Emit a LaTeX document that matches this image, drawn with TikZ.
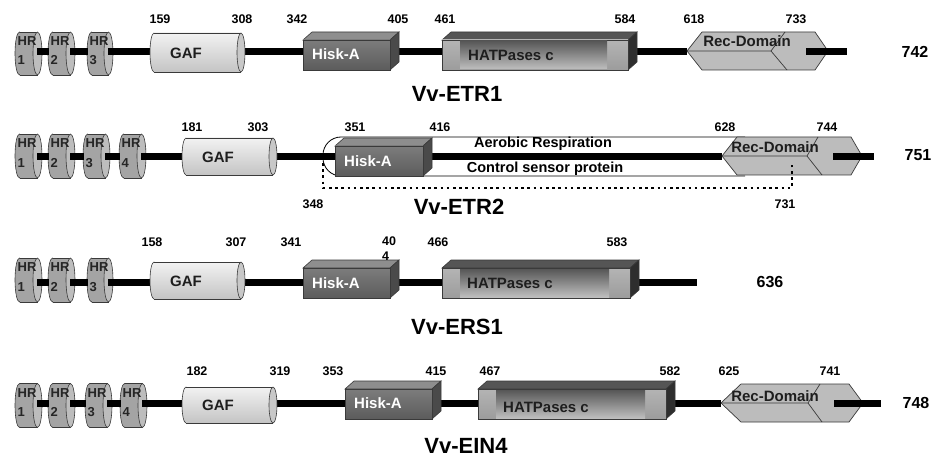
\documentclass[tikz,border=0pt]{standalone}
\usepackage{fontspec}
\setmainfont{Liberation Sans}
\definecolor{outl}{HTML}{3A3A3A}
\definecolor{hrbody}{HTML}{A4A4A4}
\definecolor{hrcap}{HTML}{BDBDBD}
\definecolor{gafT}{HTML}{F2F2F2}
\definecolor{gafB}{HTML}{C4C4C4}
\definecolor{gafcap}{HTML}{C8C8C8}
\definecolor{hkT}{HTML}{7C7C7C}
\definecolor{hkB}{HTML}{5C5C5C}
\definecolor{hktop}{HTML}{8E8E8E}
\definecolor{hkside}{HTML}{4A4A4A}
\definecolor{hatT}{HTML}{B4B4B4}
\definecolor{hatM}{HTML}{D8D8D8}
\definecolor{hatB}{HTML}{9C9C9C}
\definecolor{hattop}{HTML}{555555}
\definecolor{hatside}{HTML}{2E2E2E}
\definecolor{bandT}{HTML}{575757}
\definecolor{bandB}{HTML}{BEBEBE}
\definecolor{recfill}{HTML}{BCBCBC}
\definecolor{domtext}{HTML}{1E1E1E}
\newcommand\drawCyl[7]{%
  \path[#6,draw=outl,line width=0.6pt] (#1+#5,#3) ellipse[x radius=#5, y radius=#4];
  \path[#6] (#1+#5,#3-#4) rectangle (#2-#5,#3+#4);
  \draw[outl,line width=0.6pt] (#1+#5,#3-#4) -- (#2-#5,#3-#4) (#1+#5,#3+#4) -- (#2-#5,#3+#4);
  \path[#7,draw=outl,line width=0.6pt] (#2-#5,#3) ellipse[x radius=#5, y radius=#4];
}
\newcommand\drawBox[7]{%
  \path[#6,draw=outl,line width=0.6pt] (#1,#3) -- (#1+9,#3-8) -- (#2+9,#3-8) -- (#2,#3) -- cycle;
  \path[#7,draw=outl,line width=0.6pt] (#2,#3) -- (#2+9,#3-8) -- (#2+9,#4-8) -- (#2,#4) -- cycle;
  \path[#5,draw=outl,line width=0.6pt] (#1,#3) rectangle (#2,#4);
}
\newcommand\drawRec[9]{%
  \path[fill=recfill,draw=outl,line width=0.7pt] (#1,{(#5+#6)/2}) -- (#2,#5) -- (#3,#5) -- (#4,{(#5+#6)/2}) -- (#3,#6) -- (#2,#6) -- cycle;
  \draw[outl,line width=0.7pt] (#1,{(#5+#6)/2}) -- (#7,{(#5+#6)/2}) -- (#8,#5) (#7,{(#5+#6)/2}) -- (#9,#6);
}
\newcommand\hrlab[4]{\node[hrt] (#1) at (#2+2.5,#3-17.5) {HR\\#4};}
\newcommand\numl[4]{\node[numf] (#1) at (#2,#3) {#4};}
\begin{document}
\begin{tikzpicture}[x=1pt,y=-1pt,
  bb/.style={line width=7pt,black},
  hrb/.style={fill=hrbody}, hrc/.style={fill=hrcap},
  gafb/.style={top color=gafT,bottom color=gafB}, gafc/.style={fill=gafcap},
  hkf/.style={top color=hkT,bottom color=hkB}, hkt/.style={fill=hktop}, hks/.style={fill=hkside},
  hatf/.style={top color=hatT,middle color=hatM,bottom color=hatB}, hatt/.style={fill=hattop}, hats/.style={fill=hatside},
  band/.style={top color=bandT,bottom color=bandB},
  numf/.style={font=\fontsize{12.5}{12.5}\selectfont\bfseries,inner sep=0pt},
  totf/.style={font=\fontsize{16}{16}\selectfont\bfseries,inner sep=0pt},
  titf/.style={font=\fontsize{22}{22}\selectfont\bfseries,inner sep=0pt},
  domf/.style={font=\fontsize{15}{15}\selectfont\bfseries,inner sep=0pt,text=domtext},
  hkfont/.style={font=\fontsize{15}{15}\selectfont\bfseries,inner sep=0pt,text=white},
  hrt/.style={font=\fontsize{13}{19.5}\selectfont\bfseries,inner sep=0pt,align=left,anchor=north west,text=black!85},
  txtf/.style={font=\fontsize{14.5}{14.5}\selectfont\bfseries,inner sep=0pt},
  dots/.style={line width=2.6pt,dash pattern=on 2.6pt off 3.6pt}]
\useasboundingbox (0,0) rectangle (934,457);
\fill[white] (0,0) rectangle (934,457);

% ---------------- Row 1 : Vv-ETR1 ----------------
\coordinate (s1) at (28,52);
\coordinate (r1l) at (687,52);
\draw[bb] (s1) -- (r1l);
\drawCyl{15}{42}{53.5}{21.5}{4.5}{hrb}{hrc}
\drawCyl{48}{75}{53.5}{21.5}{4.5}{hrb}{hrc}
\drawCyl{87}{113}{53.5}{21.5}{4.5}{hrb}{hrc}
\coordinate (c11) at (37,52); \coordinate (c12) at (49,52);
\coordinate (c13) at (70,52); \coordinate (c14) at (88,52);
\coordinate (c15) at (108,52); \coordinate (c16) at (151,52);
\draw[bb] (c11) -- (c12); \draw[bb] (c13) -- (c14); \draw[bb] (c15) -- (c16);
\drawCyl{150}{245}{52.5}{19.5}{4}{gafb}{gafc}
\drawBox{303}{390}{40}{70}{hkf}{hkt}{hks}
\drawBox{442}{628}{40}{70}{hatf}{hatt}{hats}
\path[band] (460,41) rectangle (607,69);
\drawRec{687}{702}{815}{828}{32}{70}{771}{785}{787}
\coordinate (r1i) at (806,52); \coordinate (e1) at (847,52);
\draw[bb] (r1i) -- (e1);
\hrlab{h11}{15}{53.5}{1}
\hrlab{h12}{48}{53.5}{2}
\hrlab{h13}{87}{53.5}{3}
\node[domf,anchor=west] (gaf1) at (170,53) {GAF};
\node[hkfont,anchor=west] (hk1) at (312,54) {Hisk-A};
\node[domf,anchor=west] (hat1) at (468,55) {HATPases c};
\node[domf] (rec1) at (747,41) {Rec-Domain};
\numl{n11}{160}{19}{159}
\numl{n12}{242}{19}{308}
\numl{n13}{297}{19}{342}
\numl{n14}{398}{19}{405}
\numl{n15}{445}{19}{461}
\numl{n16}{625}{19}{584}
\numl{n17}{694}{19}{618}
\numl{n18}{796}{19}{733}
\node[totf] (t1) at (915,52) {742};
\node[titf] (ti1) at (457,94) {Vv-ETR1};

% ---------------- Row 2 : Vv-ETR2 ----------------
\path[fill=white,draw=black,line width=0.8pt,rounded corners=18pt] (745,137) -- (323,137) -- (323,176) -- (745,176);
\coordinate (s2) at (28,157);
\coordinate (r2l) at (722,157);
\draw[bb] (s2) -- (r2l);
\drawCyl{15}{42}{156}{22}{4.5}{hrb}{hrc}
\drawCyl{48}{75}{156}{22}{4.5}{hrb}{hrc}
\drawCyl{83}{110}{156}{22}{4.5}{hrb}{hrc}
\drawCyl{119}{146}{156}{22}{4.5}{hrb}{hrc}
\coordinate (c21) at (37,157); \coordinate (c22) at (49,157);
\coordinate (c23) at (70,157); \coordinate (c24) at (84,157);
\coordinate (c25) at (105,157); \coordinate (c26) at (120,157);
\coordinate (c27) at (141,157); \coordinate (c28) at (183,157);
\draw[bb] (c21) -- (c22); \draw[bb] (c23) -- (c24); \draw[bb] (c25) -- (c26); \draw[bb] (c27) -- (c28);
\drawCyl{182}{277}{156.5}{18.5}{4}{gafb}{gafc}
\drawBox{335}{423}{146}{176}{hkf}{hkt}{hks}
\drawRec{722}{737}{851}{862}{137}{175}{807}{818}{822}
\coordinate (r2i) at (833,157); \coordinate (e2) at (874,157);
\draw[bb] (r2i) -- (e2);
\hrlab{h21}{15}{156}{1}
\hrlab{h22}{48}{156}{2}
\hrlab{h23}{83}{156}{3}
\hrlab{h24}{119}{156}{4}
\node[domf,anchor=west] (gaf2) at (202,157) {GAF};
\node[hkfont,anchor=west] (hk2) at (344,161) {Hisk-A};
\node[domf] (rec2) at (775,147) {Rec-Domain};
\node[txtf,anchor=base] (aer) at (543,148) {Aerobic Respiration};
\node[txtf,anchor=base] (ctl) at (545,173) {Control sensor protein};
\coordinate (d1) at (323,163); \coordinate (d2) at (323,188);
\coordinate (d3) at (792,188); \coordinate (d4) at (792,162);
\draw[dots] (d1) -- (d2) -- (d3) -- (d4);
\numl{n21}{192}{127}{181}
\numl{n22}{258}{127}{303}
\numl{n23}{355}{127}{351}
\numl{n24}{440}{127}{416}
\numl{n25}{725}{127}{628}
\numl{n26}{827}{127}{744}
\numl{n27}{313}{204}{348}
\numl{n28}{785}{204}{731}
\node[totf] (t2) at (918,155) {751};
\node[titf] (ti2) at (459,207) {Vv-ETR2};

% ---------------- Row 3 : Vv-ERS1 ----------------
\coordinate (s3) at (28,282);
\coordinate (e3) at (697,282);
\draw[bb] (s3) -- (e3);
\drawCyl{15}{42}{280}{22}{4.5}{hrb}{hrc}
\drawCyl{48}{75}{280}{22}{4.5}{hrb}{hrc}
\drawCyl{87}{113}{280}{22}{4.5}{hrb}{hrc}
\coordinate (c31) at (37,282); \coordinate (c32) at (49,282);
\coordinate (c33) at (70,282); \coordinate (c34) at (88,282);
\coordinate (c35) at (108,282); \coordinate (c36) at (151,282);
\draw[bb] (c31) -- (c32); \draw[bb] (c33) -- (c34); \draw[bb] (c35) -- (c36);
\drawCyl{150}{245}{280.5}{18.5}{4}{gafb}{gafc}
\drawBox{303}{390}{268}{298}{hkf}{hkt}{hks}
\drawBox{442}{630}{268}{298}{hatf}{hatt}{hats}
\path[band] (460,269) rectangle (609,297);
\hrlab{h31}{15}{280}{1}
\hrlab{h32}{48}{280}{2}
\hrlab{h33}{87}{280}{3}
\node[domf,anchor=west] (gaf3) at (170,281) {GAF};
\node[hkfont,anchor=west] (hk3) at (312,283) {Hisk-A};
\node[domf,anchor=west] (hat3) at (467,283) {HATPases c};
\numl{n31}{152}{242}{158}
\numl{n32}{236}{242}{307}
\numl{n33}{291}{242}{341}
\node[numf,align=left,anchor=north west,font=\fontsize{12.5}{15}\selectfont\bfseries] (n34) at (382,236.5) {40\\4};
\numl{n35}{438}{242}{466}
\numl{n36}{617}{242}{583}
\node[totf] (t3) at (770,282) {636};
\node[titf] (ti3) at (457,327) {Vv-ERS1};

% ---------------- Row 4 : Vv-EIN4 ----------------
\coordinate (s4) at (28,403);
\coordinate (r4l) at (721,403);
\draw[bb] (s4) -- (r4l);
\drawCyl{15}{42}{405.5}{22}{4.5}{hrb}{hrc}
\drawCyl{48}{75}{405.5}{22}{4.5}{hrb}{hrc}
\drawCyl{85}{112}{405.5}{22}{4.5}{hrb}{hrc}
\drawCyl{120}{147}{405.5}{22}{4.5}{hrb}{hrc}
\coordinate (c41) at (37,403); \coordinate (c42) at (49,403);
\coordinate (c43) at (70,403); \coordinate (c44) at (86,403);
\coordinate (c45) at (107,403); \coordinate (c46) at (121,403);
\coordinate (c47) at (142,403); \coordinate (c48) at (183,403);
\draw[bb] (c41) -- (c42); \draw[bb] (c43) -- (c44); \draw[bb] (c45) -- (c46); \draw[bb] (c47) -- (c48);
\drawCyl{182}{277}{405}{18}{4}{gafb}{gafc}
\drawBox{345}{432}{389}{419}{hkf}{hkt}{hks}
\drawBox{478}{666}{389}{419}{hatf}{hatt}{hats}
\path[band] (496,390) rectangle (645,418);
\drawRec{721}{741}{849}{863}{384}{422}{808}{820}{822}
\coordinate (r4i) at (834,403); \coordinate (e4) at (881,403);
\draw[bb] (r4i) -- (e4);
\hrlab{h41}{15}{405.5}{1}
\hrlab{h42}{48}{405.5}{2}
\hrlab{h43}{85}{405.5}{3}
\hrlab{h44}{120}{405.5}{4}
\node[domf,anchor=west] (gaf4) at (202,405) {GAF};
\node[hkfont,anchor=west] (hk4) at (354,403) {Hisk-A};
\node[domf,anchor=west] (hat4) at (503,407) {HATPases c};
\node[domf] (rec4) at (775,396) {Rec-Domain};
\numl{n41}{197}{371}{182}
\numl{n42}{280}{371}{319}
\numl{n43}{333}{371}{353}
\numl{n44}{436}{371}{415}
\numl{n45}{490}{371}{467}
\numl{n46}{670}{371}{582}
\numl{n47}{729}{371}{625}
\numl{n48}{830}{371}{741}
\node[totf] (t4) at (916,403) {748};
\node[titf] (ti4) at (466,446) {Vv-EIN4};
\end{tikzpicture}
\end{document}
